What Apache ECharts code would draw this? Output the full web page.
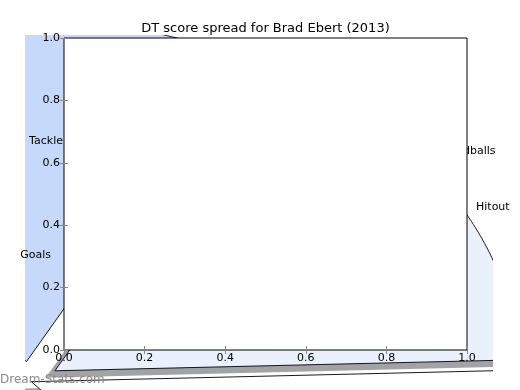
<!DOCTYPE html>
<html>
<head>
<meta charset="utf-8">
<script src="https://cdn.jsdelivr.net/npm/echarts@6/dist/echarts.min.js"></script>
<style>
html,body{margin:0;padding:0;background:#fff;}
#chart{width:520px;height:390px;}
</style>
</head>
<body>
<div id="chart"></div>
<script>
// ---- data ----
const titleText = 'DT score spread for Brad Ebert (2013)';
const categories = ['Tackle', 'Hitout', 'Goals', 'Kicks', 'Handballs', 'Marks'];
const values = [14.4, 16.8, 21.0, 22.4, 15.4, 10.0];
const tickLabels = ['0.0', '0.2', '0.4', '0.6', '0.8', '1.0'];
const watermark = 'Dream-Stats.com';

// ---- styling / layout ----
const sliceColors = ['#ffffff', '#eaf1fd', '#c6d9fa', '#a9c5f6', '#ffffff', '#dbe7fc'];
const sliceExplode = [0, 0.06, 0.06, 0.06, 0.06, 0.06];
const startAngle = -50;
const FONT = '"DejaVu Sans", "Liberation Sans", sans-serif';

const total = values.reduce((a, b) => a + b, 0);
let acc = startAngle;
const wedges = values.map((v, i) => {
  const t1 = acc, t2 = acc + v / total * 360;
  acc = t2;
  return { t1: t1 * Math.PI / 180, t2: t2 * Math.PI / 180, color: sliceColors[i], explode: sliceExplode[i] };
});

function shadowOf(hex) {
  const r = parseInt(hex.slice(1, 3), 16), g = parseInt(hex.slice(3, 5), 16), b = parseInt(hex.slice(5, 7), 16);
  return 'rgba(' + Math.round(r * 0.3) + ',' + Math.round(g * 0.3) + ',' + Math.round(b * 0.3) + ',0.5)';
}

function renderWedge(params, api) {
  const w = wedges[params.dataIndex];
  const mid = (w.t1 + w.t2) / 2;
  const cx = w.explode * Math.cos(mid), cy = w.explode * Math.sin(mid);
  const pts = [[cx, cy]];
  const n = Math.max(4, Math.ceil((w.t2 - w.t1) / (Math.PI / 360)));
  for (let k = 0; k <= n; k++) {
    const t = w.t1 + (w.t2 - w.t1) * k / n;
    pts.push([cx + Math.cos(t), cy + Math.sin(t)]);
  }
  const px = pts.map(p => api.coord(p));
  const sh = pts.map(p => api.coord([p[0] - 0.02, p[1] - 0.02]));
  return {
    type: 'group',
    children: [
      { type: 'polygon', z2: 1, shape: { points: sh }, style: { fill: shadowOf(w.color), stroke: null } },
      { type: 'polygon', z2: 10 + params.dataIndex, shape: { points: px },
        style: { fill: w.color, stroke: '#000', lineWidth: 0.9, lineJoin: 'round' } }
    ]
  };
}

// label anchor layout (pixels) for the labels that are visible
const labelLayout = {
  Tackle: [63, 141, 'right'],
  Goals: [51, 255, 'right'],
  Handballs: [441, 151, 'left'],
  Hitout: [476, 207, 'left']
};

const graphics = [];
categories.forEach(c => {
  const L = labelLayout[c];
  if (!L) return;
  graphics.push({
    type: 'text', x: L[0], y: L[1], z: -4, silent: true,
    style: { text: c, textAlign: L[2], align: L[2], textVerticalAlign: 'middle', verticalAlign: 'middle',
      font: '11px ' + FONT, fill: '#000' }
  });
});
graphics.push({
  type: 'text', x: 265.5, y: 29, z: 5, silent: true,
  style: { text: titleText, textAlign: 'center', align: 'center', textVerticalAlign: 'middle', verticalAlign: 'middle',
    font: '13px ' + FONT, fill: '#000' }
});
graphics.push({
  type: 'text', x: 0, y: 380, z: 10, silent: true,
  style: { text: watermark, textAlign: 'left', align: 'left', textVerticalAlign: 'middle', verticalAlign: 'middle',
    font: '12px ' + FONT, fill: '#8a8a8a' }
});

const tickStyle = { show: true, inside: true, length: 4, lineStyle: { color: '#888', width: 1 } };
const labelStyle = {
  fontSize: 11, fontFamily: FONT, color: '#000',
  formatter: v => tickLabels[Math.round(v / 0.2)]
};

const chart = echarts.init(document.getElementById('chart'), null, { renderer: 'canvas' });
chart.setOption({
  animation: false,
  backgroundColor: '#fff',
  grid: [
    { left: 64, top: 38, width: 403, height: 312, show: true, backgroundColor: '#fff', borderColor: '#000', borderWidth: 1, z: 0 },
    { left: 25, top: 35, width: 468, height: 355, show: false }
  ],
  xAxis: [
    { gridIndex: 0, type: 'value', min: 0, max: 1, interval: 0.2, position: 'bottom',
      axisLine: { show: false }, axisTick: tickStyle, splitLine: { show: false },
      axisLabel: Object.assign({ margin: 3 }, labelStyle) },
    { gridIndex: 0, type: 'value', min: 0, max: 1, interval: 0.2, position: 'top',
      axisLine: { show: false }, axisTick: tickStyle, splitLine: { show: false }, axisLabel: { show: false } },
    { gridIndex: 1, type: 'value', min: -0.013823, max: 0.996976, show: false, splitLine: { show: false } }
  ],
  yAxis: [
    { gridIndex: 0, type: 'value', min: 0, max: 1, interval: 0.2, position: 'left',
      axisLine: { show: false }, axisTick: tickStyle, splitLine: { show: false },
      axisLabel: Object.assign({ margin: 4 }, labelStyle) },
    { gridIndex: 0, type: 'value', min: 0, max: 1, interval: 0.2, position: 'right',
      axisLine: { show: false }, axisTick: tickStyle, splitLine: { show: false }, axisLabel: { show: false } },
    { gridIndex: 1, type: 'value', min: -0.024269, max: 1.013743, show: false, splitLine: { show: false } }
  ],
  series: [{
    type: 'custom',
    name: 'DT score spread',
    xAxisIndex: 2, yAxisIndex: 2,
    z: -5,
    clip: true,
    silent: true,
    renderItem: renderWedge,
    data: values.map((v, i) => ({ name: categories[i], value: [0, 0, v] })),
    encode: { x: 0, y: 1 }
  }],
  graphic: { elements: graphics }
});
</script>
</body>
</html>
